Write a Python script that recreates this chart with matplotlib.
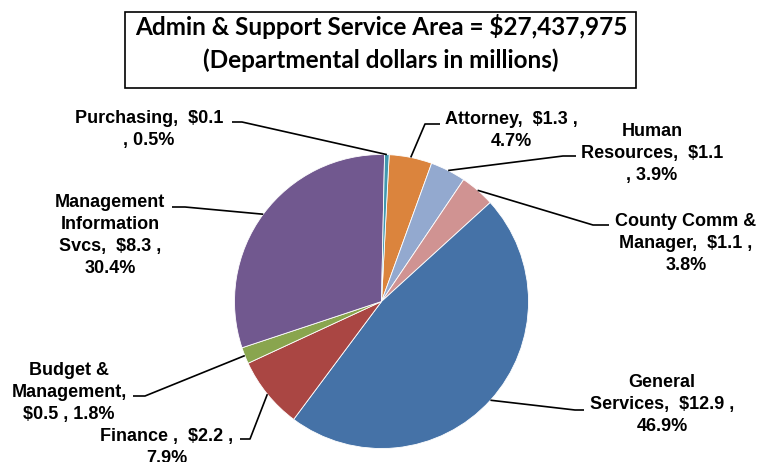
import matplotlib
matplotlib.use("Agg")
import matplotlib.pyplot as plt
from matplotlib.patches import Rectangle
import numpy as np

# Department spending, Admin & Support service area
departments = ["Attorney", "Human Resources", "County Comm & Manager",
               "General Services", "Finance", "Budget & Management",
               "Management Information Svcs", "Purchasing"]
dollars_m = [1.3, 1.1, 1.1, 12.9, 2.2, 0.5, 8.3, 0.1]
percents = [4.7, 3.9, 3.8, 46.9, 7.9, 1.8, 30.4, 0.5]
colors = ["#DB843D", "#93A9CF", "#D09392", "#4572A7",
          "#AA4643", "#89A54E", "#71588F", "#4198AF"]

# Label text templates (line breaks as laid out on the chart)
label_fmt = [
    "Attorney,  ${d:.1f} ,\n{p:.1f}%",
    "Human\nResources,  ${d:.1f}\n, {p:.1f}%",
    "County Comm &\nManager,  ${d:.1f} ,\n{p:.1f}%",
    "General\nServices,  ${d:.1f} ,\n{p:.1f}%",
    "Finance ,  ${d:.1f} ,\n{p:.1f}%",
    "Budget &\nManagement,\n${d:.1f} , {p:.1f}%",
    "Management\nInformation\nSvcs,  ${d:.1f} ,\n{p:.1f}%",
    "Purchasing,  ${d:.1f}\n, {p:.1f}%",
]

W, H = 759, 462
fig = plt.figure(figsize=(W / 100, H / 100), dpi=100)
ax = fig.add_axes([0, 0, 1, 1])


def Y(y):
    # convert a top-down pixel row to axis y
    return H - y


cx, cy, R = 381.5, Y(301.5), 147
wedges, _ = ax.pie(percents, colors=colors, startangle=87, counterclock=False,
                   center=(cx, cy), radius=R, frame=True,
                   wedgeprops=dict(edgecolor="white", linewidth=0.6))
ax.set_xlim(0, W)
ax.set_ylim(0, H)
ax.set_aspect("equal")
ax.axis("off")

# label anchor (center x, first-line baseline y) and leader elbow points
label_pos = [(511, 124), (652, 136), (686, 226), (662, 387),
             (167, 441), (69, 375), (110, 207), (149, 123)]
leader_pts = [
    [(440, 124), (425, 124)],
    [(576, 156), (563, 156)],
    [(609, 225), (593, 225)],
    [(584, 410), (575, 410)],
    [(240, 439), (250, 439)],
    [(133, 396), (145, 396)],
    [(172, 207), (185, 207)],
    [(232, 122), (242, 122)],
]
line_step = 22

lab_font = dict(family="Liberation Sans", fontweight="bold", fontsize=13,
                color="black")
for w, fmt, d, p, (lx, ly), pts in zip(wedges, label_fmt, dollars_m, percents,
                                        label_pos, leader_pts):
    for i, line in enumerate(fmt.format(d=d, p=p).split("\n")):
        ax.text(lx, Y(ly + i * line_step), line, ha="center", va="baseline",
                **lab_font)
    mid = np.deg2rad((w.theta1 + w.theta2) / 2)
    ex, ey = cx + R * np.cos(mid), cy + R * np.sin(mid)
    xs = [pt[0] for pt in pts] + [ex]
    ys = [Y(pt[1]) for pt in pts] + [ey]
    ax.plot(xs, ys, color="black", lw=1.2, solid_capstyle="butt")

# Title box
ax.add_patch(Rectangle((125, Y(88)), 511, 76, fill=False, edgecolor="black",
                       lw=1.2))
title_font = dict(family="Lato", fontweight="bold", fontsize=17.5,
                  color="black", ha="center", va="baseline")
ax.text(381, Y(35), "Admin & Support Service Area = $27,437,975", **title_font)
ax.text(381, Y(68), "(Departmental dollars in millions)", **title_font)

fig.savefig("out.png", dpi=100)
